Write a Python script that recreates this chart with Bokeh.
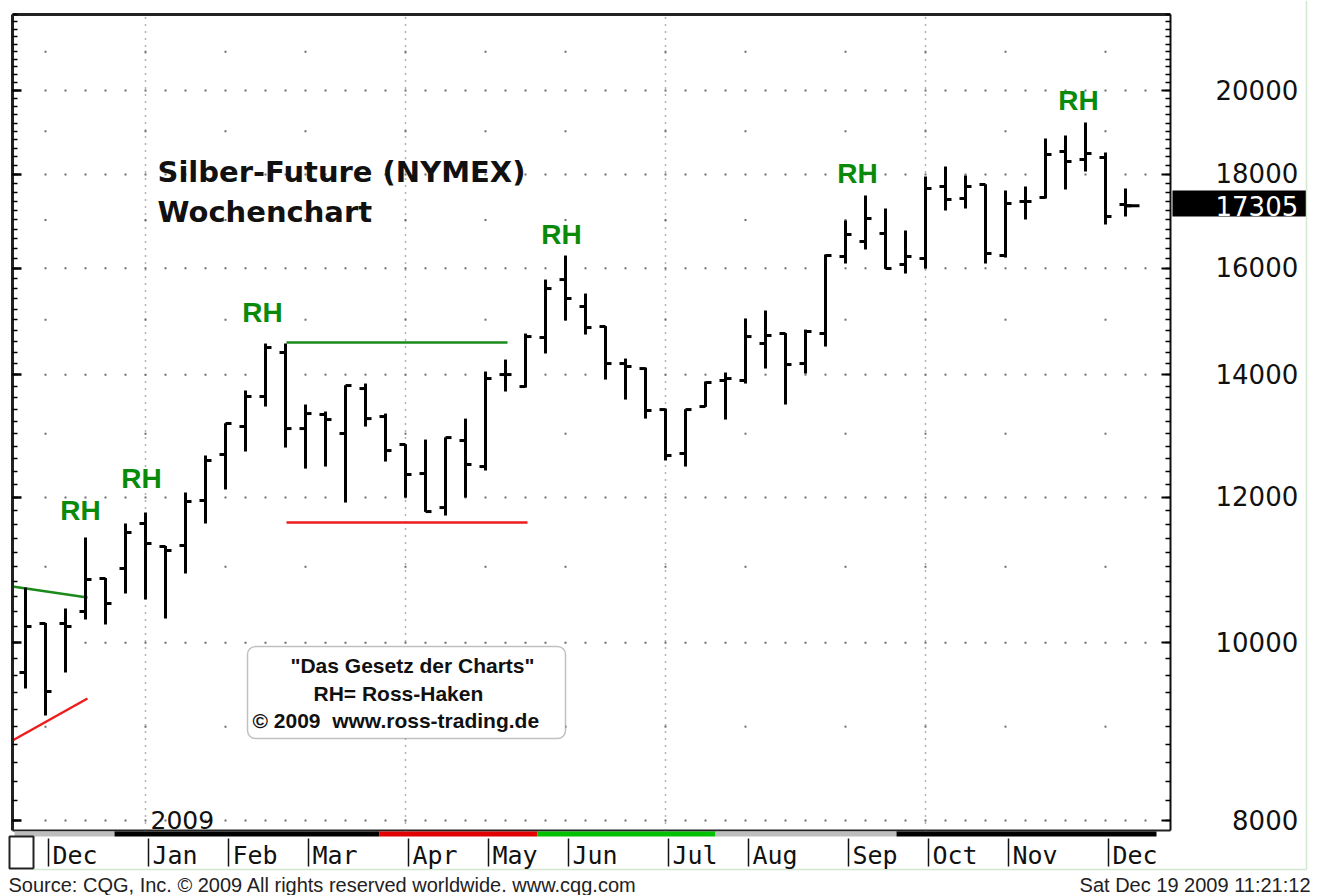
from bokeh.plotting import figure
from bokeh.models import (Range1d, LogAxis, FixedTicker, BoxAnnotation, ColumnDataSource,
                          LinearScale)
from bokeh.core.properties import value
from bokeh.embed import file_html
from bokeh.resources import INLINE

# ---- weekly OHLC data (Silver futures, weeks of 24 Nov 2008 .. 14 Dec 2009) ----
opens = [9633, 10244, 10244, 10399, 10839, 10976, 11614, 11283, 11297, 11954,
         12665, 13117, 13621, 14395, 13084, 13317, 13003, 13758, 13283, 12825,
         12366, 11849, 12889, 12475, 14002, 13793, 14668, 15775, 15250, 14872,
         14197, 14108, 13400, 12681, 13451, 13898, 13898, 14558, 14742, 14197,
         14742, 16238, 16547, 16714, 16076, 16197, 17729, 17464, 17774, 16258,
         17399, 17486, 18526, 18339, 18386, 17333]
highs = [10717, 10250, 10438, 11411, 10845, 11614, 11775, 11290, 12075, 12649,
         13170, 13724, 14558, 14558, 13485, 13367, 13815, 13845, 13333, 12830,
         12905, 12940, 13249, 14055, 14268, 14742, 15775, 16258, 15501, 14880,
         14286, 14126, 13417, 13405, 13880, 14038, 15022, 15174, 14750, 14815,
         16279, 16989, 17530, 17246, 16777, 17953, 18180, 17976, 17780, 17641,
         17729, 18830, 18901, 19213, 18502, 17684]
lows = [9441, 9126, 9633, 10295, 10231, 10637, 10557, 10308, 10907, 11614,
        12120, 12712, 13451, 12776, 12443, 12475, 11924, 13117, 12554, 11999,
        11785, 11731, 11999, 12413, 13707, 13775, 14377, 14985, 14723, 13914,
        13569, 13249, 12570, 12475, 13445, 13233, 13845, 14108, 13485, 14020,
        14503, 16096, 16380, 15990, 15895, 15995, 17203, 17246, 16096, 16217,
        17009, 17464, 17662, 18066, 16903, 17074]
closes = [10205, 9406, 10205, 10825, 10504, 11483, 11326, 11227, 11939, 12570,
          13167, 13621, 14485, 13084, 13333, 13233, 13810, 13249, 12728, 12351,
          11790, 12937, 12507, 13932, 14002, 14686, 15598, 15404, 14853, 14197,
          14144, 13384, 12649, 13400, 13863, 13932, 14686, 14705, 14179, 14779,
          16258, 16693, 17031, 15995, 16238, 17684, 17441, 17729, 16299, 17355,
          17399, 18456, 18295, 18479, 17074, 17305]
weeks = list(range(len(opens)))

# ---- axis / date labels ----
month_labels = ["Dec", "Jan", "Feb", "Mar", "Apr", "May", "Jun", "Jul",
                "Aug", "Sep", "Oct", "Nov", "Dec"]
month_idx = [1, 6, 10, 14, 19, 23, 27, 32, 36, 41, 45, 49, 54]
quarter_idx = [6, 19, 32, 45]
price_ticks = [8000, 10000, 12000, 14000, 16000, 18000, 20000]
half_levels = [9000, 11000, 13000, 15000, 17000, 19000, 21000]
last_price = 17305

# ---- annotations ----
rh_x = [2.75, 5.8, 11.85, 26.8, 41.6, 52.65]
rh_y = [11806, 12290, 15136, 16693, 18021, 19750]
green_slope_x = [-0.65, 3.1]
green_slope_y = [10731, 10584]
red_slope_x = [-0.65, 3.1]
red_slope_y = [8845, 9324]
green_flat_x = [13.05, 24.1]
green_flat_y = [14577, 14577]
red_flat_x = [13.05, 25.1]
red_flat_y = [11629, 11629]

strip_left = [-0.55, 4.45, 17.7, 25.6, 34.5, 43.55]
strip_right = [4.45, 17.7, 25.6, 34.5, 43.55, 56.55]
strip_colors = ["#bdbdbd", "#000000", "#e00000", "#00c000", "#bdbdbd", "#000000"]

X0, X1 = -0.65, 57.25        # plotting area in week units
Y0, Y1 = 7900, 22002         # plotting area in price units
W, H = 1314, 895

p = figure(width=W, height=H,
           x_range=Range1d(-1.25, 64.45), y_range=Range1d(7281.3, 22392),
           y_axis_type="log", x_axis_location=None, y_axis_location=None,
           toolbar_location=None, output_backend="svg", min_border=0)
p.outline_line_color = None
p.background_fill_color = "white"
p.border_fill_color = "white"
p.xgrid.visible = False
p.ygrid.visible = False
p.extra_x_ranges = {"px": Range1d(0, W)}
p.extra_y_ranges = {"px": Range1d(H, 0)}
p.extra_x_scales = {"px": LinearScale()}
p.extra_y_scales = {"px": LinearScale()}

ticker = FixedTicker(ticks=price_ticks, minor_ticks=list(range(8000, 22001, 200)))
blank = {t: "" for t in price_ticks}

left_axis = LogAxis(ticker=ticker, fixed_location=X0, bounds=(Y0, Y1),
                    major_label_overrides=blank, major_label_text_font_size="1px",
                    major_label_standoff=0,
                    axis_line_color="#222222", axis_line_width=3,
                    major_tick_in=9, major_tick_out=0, major_tick_line_width=2.5,
                    minor_tick_in=5, minor_tick_out=0, minor_tick_line_width=1.5)
p.add_layout(left_axis, "left")

right_axis = LogAxis(ticker=ticker, fixed_location=X1, bounds=(Y0, Y1),
                     major_label_overrides=blank, major_label_text_font_size="1px",
                     major_label_standoff=0,
                     axis_line_color="#111111", axis_line_width=2,
                     major_tick_in=9, major_tick_out=0, major_tick_line_width=2,
                     minor_tick_in=5, minor_tick_out=0, minor_tick_line_width=1.5)
p.add_layout(right_axis, "right")

labels = {t: str(t) for t in price_ticks}
labels[8000] = "\u20078000"
label_axis = LogAxis(ticker=FixedTicker(ticks=price_ticks), fixed_location=63.7,
                     bounds=(Y0, Y1), major_label_overrides=labels,
                     major_label_text_font="DejaVu Sans", major_label_text_font_size="26px",
                     major_label_text_color="#111111", major_label_standoff=-84,
                     axis_line_color=None, major_tick_line_color=None,
                     minor_tick_line_color=None, major_tick_in=0, major_tick_out=0,
                     minor_tick_in=0, minor_tick_out=0)
p.add_layout(label_axis, "right")

# frame top / bottom edges
p.segment(x0=[X0, X0], y0=[Y1, Y0], x1=[X1, X1], y1=[Y1, Y0],
          line_color="#222222", line_width=[3, 2])

# dotted grid
dot_x = [i for lv in price_ticks for i in range(1, 57)]
dot_y = [lv for lv in price_ticks for i in range(1, 57)]
p.scatter(dot_x, dot_y, marker="square", size=2, fill_color="#6e6e6e", line_color=None)
sp_x = [m for lv in half_levels for m in month_idx]
sp_y = [lv for lv in half_levels for m in month_idx]
p.scatter(sp_x, sp_y, marker="square", size=2, fill_color="#6e6e6e", line_color=None)
p.segment(x0=quarter_idx, y0=Y0, x1=quarter_idx, y1=Y1, line_color="#666666",
          line_width=1.5, line_dash="1 6")

# trend lines
p.line(green_slope_x, green_slope_y, line_color="#1a8a1a", line_width=2.5)
p.line(red_slope_x, red_slope_y, line_color="#ee1c1c", line_width=2.5)
p.line(green_flat_x, green_flat_y, line_color="#1a8a1a", line_width=2.5)
p.line(red_flat_x, red_flat_y, line_color="#ee1c1c", line_width=2.5)

# OHLC bars
src = ColumnDataSource(dict(x=weeks, o=opens, h=highs, l=lows, c=closes,
                            xl=[w - 0.3 for w in weeks], xr=[w + 0.3 for w in weeks]))
p.segment(x0="x", y0="l", x1="x", y1="h", source=src, line_color="black", line_width=3)
p.segment(x0="xl", y0="o", x1="x", y1="o", source=src, line_color="black", line_width=3)
p.segment(x0="x", y0="c", x1="xr", y1="c", source=src, line_color="black", line_width=3)
p.segment(x0=[weeks[-1]], y0=[closes[-1]], x1=[weeks[-1] + 0.7], y1=[closes[-1]],
          line_color="black", line_width=3)

# RH labels
p.text(x=rh_x, y=rh_y, text=["RH"] * len(rh_x), text_font=value("Liberation Sans"),
       text_font_style="bold", text_font_size="28px", text_color="#0a8a0a",
       text_align="center", text_baseline="middle")

# title
p.text(x=[157, 157], y=[171, 211], text=["Silber-Future (NYMEX)", "Wochenchart"],
       x_range_name="px", y_range_name="px",
       text_font=value("DejaVu Sans"), text_font_style="bold", text_font_size="29px",
       text_color="#111111", text_align="left", text_baseline="middle")

# year label
p.text(x=[150], y=[819], text=["2009"], x_range_name="px", y_range_name="px",
       text_font=value("DejaVu Sans"), text_font_size="25px", text_color="#111111",
       text_align="left", text_baseline="middle")

# info box
p.add_layout(BoxAnnotation(left=247, right=565, top=646, bottom=738,
                           x_range_name="px", y_range_name="px",
                           fill_color="white", fill_alpha=1.0, line_color="#333333",
                           line_width=1.5, border_radius=8))
box_r = p.text(x=[290, 313, 252], y=[665, 693, 720],
               text=['"Das Gesetz der Charts"', "RH= Ross-Haken",
                     "\u00a9 2009\u00a0\u00a0www.ross-trading.de"],
               x_range_name="px", y_range_name="px",
               text_font=value("Liberation Sans"), text_font_style="bold",
               text_font_size="21px", text_color="#111111", text_align="left",
               text_baseline="middle")
box_r.level = "overlay"

# last price marker
p.quad(left=[1172], right=[1306], top=[190], bottom=[216], x_range_name="px",
       y_range_name="px", fill_color="black", line_color=None)
p.text(x=[1215], y=[last_price], text=[str(last_price)], x_range_name="px",
       text_font=value("DejaVu Sans"), text_font_size="26px", text_color="white",
       text_align="left", text_baseline="middle")

# ---- date strip below the chart ----
p.quad(left=strip_left, right=strip_right, top=831, bottom=836, y_range_name="px",
       fill_color=strip_colors, line_color=None)
p.quad(left=[9], right=[33], top=[836], bottom=[868], x_range_name="px", y_range_name="px",
       fill_color="white", line_color="#222222", line_width=2)
p.segment(x0=[33, 1306], y0=[869, 0], x1=[1306, 1306], y1=[869, 869], x_range_name="px",
          y_range_name="px", line_color="#d2e6d2", line_width=1.5)
p.segment(x0=[m + 0.15 for m in month_idx], y0=838, x1=[m + 0.15 for m in month_idx], y1=866,
          y_range_name="px", line_color="#111111", line_width=1.5)
p.text(x=[m + 0.35 for m in month_idx], y=855, text=month_labels, y_range_name="px",
       text_font=value("DejaVu Sans Mono"), text_font_size="25px", text_color="#111111",
       text_align="left", text_baseline="middle")
p.text(x=[8], y=[884], text=["Source: CQG, Inc. \u00a9 2009 All rights reserved worldwide. www.cqg.com"],
       x_range_name="px", y_range_name="px",
       text_font=value("Liberation Sans"), text_font_size="20px", text_color="#222222",
       text_align="left", text_baseline="middle")
p.text(x=[1310], y=[884], text=["Sat Dec 19 2009 11:21:12"],
       x_range_name="px", y_range_name="px",
       text_font=value("Liberation Sans"), text_font_size="20px", text_color="#222222",
       text_align="right", text_baseline="middle")

open("out.html", "w").write(file_html(p, INLINE))
